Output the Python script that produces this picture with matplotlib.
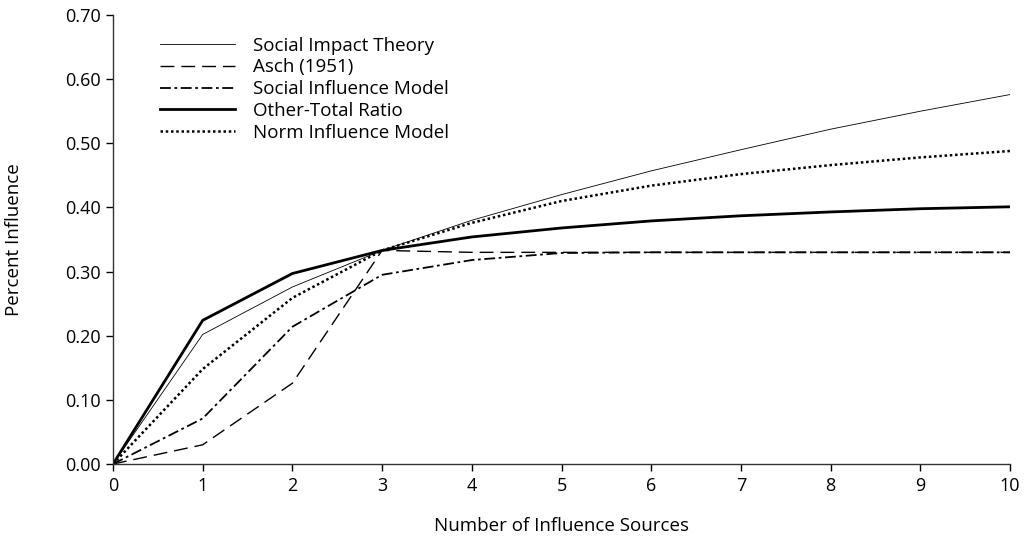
import matplotlib
matplotlib.use("Agg")
import matplotlib.pyplot as plt

plt.rcParams['font.family'] = ['Open Sans', 'DejaVu Sans']

sources = [0, 1, 2, 3, 4, 5, 6, 7, 8, 9, 10]
social_impact = [0.0, 0.202, 0.276, 0.333, 0.38, 0.42, 0.457, 0.49, 0.522, 0.55, 0.576]
asch = [0.0, 0.03, 0.126, 0.333, 0.33, 0.33, 0.33, 0.33, 0.33, 0.33, 0.33]
social_influence = [0.0, 0.071, 0.214, 0.295, 0.318, 0.329, 0.33, 0.33, 0.33, 0.33, 0.33]
other_total = [0.0, 0.224, 0.297, 0.333, 0.354, 0.368, 0.379, 0.387, 0.393, 0.398, 0.401]
norm_influence = [0.0, 0.148, 0.259, 0.333, 0.376, 0.41, 0.434, 0.452, 0.466, 0.478, 0.488]

y_ticks = [0.0, 0.1, 0.2, 0.3, 0.4, 0.5, 0.6, 0.7]

fig = plt.figure(figsize=(10.3, 5.4), dpi=100)
ax = fig.add_axes([0.1097, 0.1407, 0.8709, 0.8315])

ax.plot(sources, social_impact, color="black", lw=0.6, label="Social Impact Theory")
ax.plot(sources, asch, color="black", lw=1.0, linestyle=(0, (10, 5)), label="Asch (1951)")
ax.plot(sources, social_influence, color="black", lw=1.3, linestyle=(0, (6, 2, 1.5, 2)),
        label="Social Influence Model")
ax.plot(sources, other_total, color="black", lw=2.0, label="Other-Total Ratio")
ax.plot(sources, norm_influence, color="black", lw=1.8, linestyle=(0, (1, 1.1)),
        dash_capstyle="butt", label="Norm Influence Model")

ax.set_xlim(0, 10)
ax.set_ylim(0, 0.7)
ax.set_xticks(sources)
ax.set_yticks(y_ticks)
ax.set_yticklabels([f"{v:.2f}" for v in y_ticks])
ax.tick_params(labelsize=13, direction="out", length=5, width=1, colors="black", pad=4)

for side in ["top", "right"]:
    ax.spines[side].set_visible(False)
for side in ["left", "bottom"]:
    ax.spines[side].set_linewidth(1.0)
    ax.spines[side].set_color("#333333")

ax.set_xlabel("Number of Influence Sources", fontsize=13.5, labelpad=16)
ax.set_ylabel("Percent Influence", fontsize=13.5, labelpad=30)

ax.legend(loc="upper left", bbox_to_anchor=(0.052, 0.952), frameon=False, fontsize=13.5,
          borderpad=0, borderaxespad=0, handlelength=4.0, handletextpad=1.0, labelspacing=0.2)

fig.savefig("out.png", dpi=100)
